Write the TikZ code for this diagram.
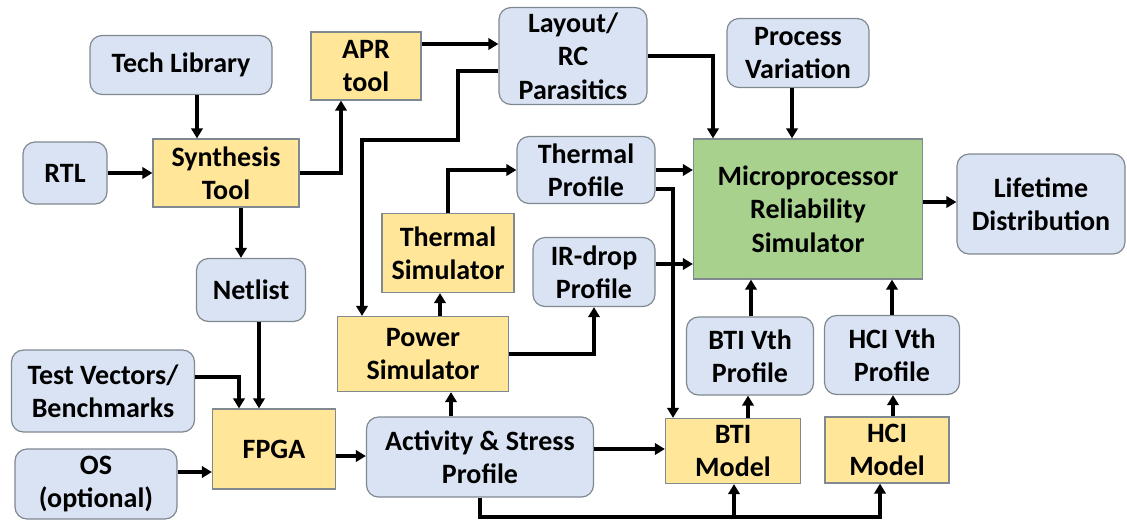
\documentclass[tikz,border=0pt]{standalone}
\usepackage{fontspec}
\setmainfont{Carlito}
\usetikzlibrary{arrows.meta}
\definecolor{boxblue}{HTML}{DAE3F3}
\definecolor{boxyellow}{HTML}{FFE699}
\definecolor{boxgreen}{HTML}{A9D18E}
\definecolor{edgegray}{HTML}{808890}
\begin{document}
\begin{tikzpicture}[x=0.75pt,y=-0.75pt,
  base/.style={draw=edgegray, line width=0.9pt, align=center, inner sep=0pt,
    font=\fontsize{21}{25}\selectfont\bfseries},
  data/.style={base, fill=boxblue, rounded corners=9pt},
  tool/.style={base, fill=boxyellow},
  core/.style={base, fill=boxgreen},
  sz/.style 2 args={minimum width=#1*0.75pt, minimum height=#2*0.75pt},
  arr/.style={line width=2.8pt, -{Triangle[length=7.5pt,width=8.5pt]}},
  link/.style={line width=2.8pt}]
\useasboundingbox (0,0) rectangle (1127,522);

% blocks
\node[data, sz={182}{59}]  (tech)   at (181,65)  {Tech Library};
\node[data, sz={84}{62}]   (rtl)    at (65,173)  {RTL};
\node[tool, sz={146}{68}]  (synth)  at (226,173) {Synthesis\\Tool};
\node[tool, sz={110}{68}]  (apr)    at (366,66)  {APR\\tool};
\node[data, sz={148}{97}]  (layout) at (573,56)  {Layout/\\RC\\Parasitics};
\node[data, sz={142}{69}]  (pv)     at (798,53)  {Process\\Variation};
\node[core, sz={229}{140}] (mrs)    at (808,209) {Microprocessor\\Reliability\\Simulator};
\node[data, sz={168}{100}] (life)   at (1041,204) {Lifetime\\Distribution};
\node[data, sz={138}{67}]  (tprof)  at (586,170) {Thermal\\Profile};
\node[tool, sz={132}{79}]  (tsim)   at (448,253) {Thermal\\Simulator};
\node[data, sz={122}{69}]  (ir)     at (594,272) {IR-drop\\Profile};
\node[tool, sz={171}{75}]  (psim)   at (423,354) {Power\\Simulator};
\node[data, sz={227}{80}]  (act)    at (480,457) {Activity \& Stress\\Profile};
\node[tool, sz={135}{65}]  (btim)   at (733,451) {BTI\\Model};
\node[tool, sz={124}{66}]  (hcim)   at (887,450) {HCI\\Model};
\node[data, sz={127}{78}]  (btiv)   at (750,356) {BTI Vth\\Profile};
\node[data, sz={135}{79}]  (hciv)   at (892,355) {HCI Vth\\Profile};
\node[data, sz={109}{63}]  (net)    at (251,290) {Netlist};
\node[data, sz={183}{82}]  (tv)     at (103,391) {Test Vectors/\\Benchmarks};
\node[data, sz={162}{70}]  (os)     at (96,484)  {OS\\(optional)};
\node[tool, sz={123}{80}]  (fpga)   at (274,449) {FPGA};

% synthesis and layout flow
\draw[arr] (tech.south -| 197,0) -- (synth.north -| 197,0);
\draw[arr] (rtl) -- (synth);
\draw[arr] (synth.east) -| (apr.south -| 341,0);
\draw[arr] (synth.south -| 241,0) -- (net.north -| 241,0);
\draw[arr] (apr.east |- 0,44) -- (layout.west |- 0,44);
\draw[arr] (layout.west |- 0,71) -| (458,140) -| (psim.north -| 362,0);
\draw[arr] (layout.east |- 0,56) -| (mrs.north -| 713,0);
\draw[arr] (pv.south -| 792,0) -- (mrs.north -| 792,0);

% thermal and power
\draw[arr] (tprof.east) -- (mrs.west |- tprof.east);
\draw[arr] (tprof.east |- 0,189) -| (btim.north -| 673,0);
\draw[arr] (tsim.north) |- (tprof.west);
\draw[arr] (ir.east |- 0,264) -- (mrs.west |- 0,264);
\draw[arr] (psim.north -| 440,0) -- (tsim.south -| 440,0);
\draw[arr] (psim.east) -| (ir.south);
\draw[arr] (act.north -| 451,0) -- (psim.south -| 451,0);

% aging models
\draw[arr] (act.east |- 0,449) -- (btim.west |- 0,449);
\coordinate (busB) at (734,517);
\coordinate (busH) at (880,517);
\draw[arr] (act.south) |- (busH) -- (hcim.south -| busH);
\draw[arr] (busB) -- (btim.south -| busB);
\draw[arr] (btim.north -| 748,0) -- (btiv.south -| 748,0);
\draw[arr] (hcim.north -| 893,0) -- (hciv.south -| 893,0);
\draw[arr] (btiv.north -| 751,0) -- (mrs.south -| 751,0);
\draw[arr] (hciv.north) -- (mrs.south -| hciv.north);
\draw[arr] (mrs.east |- 0,202) -- (life.west |- 0,202);

% emulation inputs
\draw[arr] (net.south -| 259,0) -- (fpga.north -| 259,0);
\draw[arr] (tv.east |- 0,377) -| (fpga.north -| 239,0);
\draw[arr] (os.east |- 0,472) -- (fpga.west |- 0,472);
\draw[arr] (fpga.east |- 0,456) -- (act.west |- 0,456);
\end{tikzpicture}
\end{document}
